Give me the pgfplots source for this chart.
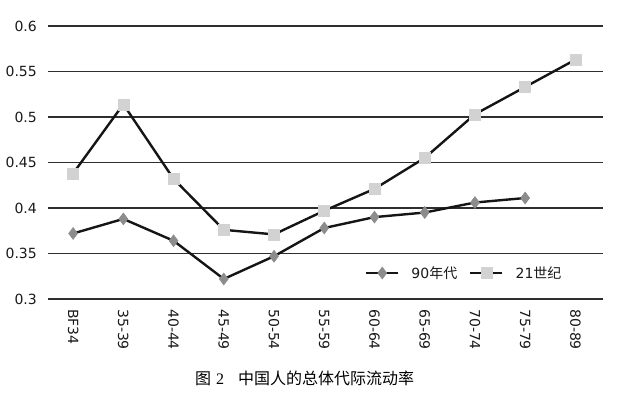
\documentclass[border=0pt]{standalone}
\usepackage{fontspec}
\usepackage{pgfplots}
\pgfplotsset{compat=1.18}
\setmainfont{DejaVu Sans}
\newfontfamily\cjk{Noto Sans CJK SC}
\newfontfamily\serifnum{Liberation Serif}
\newcommand\tickfont{\fontsize{14bp}{16bp}\selectfont}
\definecolor{linec}{HTML}{151515}
\definecolor{gridc}{HTML}{2E2E2E}
\definecolor{diamc}{HTML}{8C8C8C}
\definecolor{sqc}{HTML}{D2D2D2}
\begin{document}
\begin{tikzpicture}
\path (-48bp,-96bp) rectangle (592bp,299bp);
\begin{axis}[
  at={(0,0)}, anchor=south west,
  scale only axis, width=555bp, height=273bp,
  xmin=-0.5, xmax=10.55, ymin=0.3, ymax=0.6,
  axis line style={draw=none},
  major tick length=0pt,
  ymajorgrids, grid style={line width=1.3bp, color=gridc},
  ytick={0.3,0.35,0.4,0.45,0.5,0.55,0.6},
  yticklabels={0.3,0.35,0.4,0.45,0.5,0.55,0.6},
  xtick={0,1,2,3,4,5,6,7,8,9,10},
  xticklabels={BF34,35-39,40-44,45-49,50-54,55-59,60-64,65-69,70-74,75-79,80-89},
  /pgf/number format/assume math mode=true,
  yticklabel style={font=\tickfont, text=black!90, anchor=east, inner sep=0pt},
  xticklabel style={font=\tickfont, text=black!90, rotate=-90, anchor=west, inner sep=0pt},
  yticklabel shift=11bp,
  xticklabel shift=10bp,
  legend columns=2,
  legend style={draw=none, fill=white, at={(0.75,0.095)}, anchor=center,
    font=\tickfont, text=black!90, column sep=10bp, inner sep=0pt},
  legend image code/.code={\draw[mark repeat=2,mark phase=2,#1] plot coordinates {(0bp,0bp)(16bp,0bp)(32bp,0bp)};},
]
\addplot[color=linec, line width=2.4bp, mark=diamond*, mark size=6bp,
  mark options={fill=diamc, draw=diamc, line width=0.5bp}]
coordinates {(0,0.372) (1,0.388) (2,0.364) (3,0.322) (4,0.347) (5,0.378) (6,0.390) (7,0.395) (8,0.406) (9,0.411)};
\addlegendentry{90{\cjk 年代}}
\addplot[color=linec, line width=2.4bp, mark=square*, mark size=5.5bp,
  mark options={fill=sqc, draw=sqc, line width=0.5bp}]
coordinates {(0,0.438) (1,0.514) (2,0.432) (3,0.376) (4,0.371) (5,0.397) (6,0.421) (7,0.455) (8,0.503) (9,0.533) (10,0.563)};
\addlegendentry{21{\cjk 世纪}}
\end{axis}
\node[anchor=west, inner sep=0pt, font=\fontsize{16bp}{18bp}\selectfont] at (147bp,-79bp)
  {\cjk 图\hspace{5bp}{\serifnum 2}\hspace{14bp}中国人的总体代际流动率};
\end{tikzpicture}
\end{document}
